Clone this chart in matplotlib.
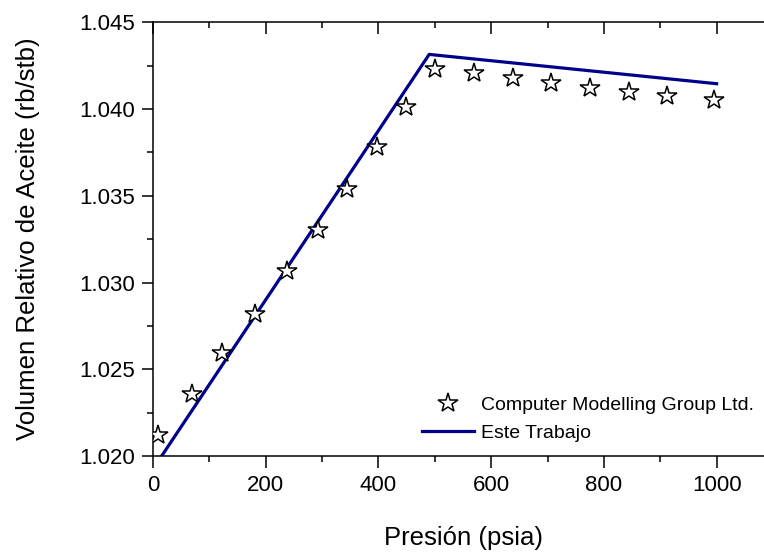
import matplotlib
matplotlib.use("Agg")
import matplotlib.pyplot as plt
from matplotlib.ticker import MultipleLocator

plt.rcParams['font.family'] = ['Liberation Sans', 'DejaVu Sans']

# CMG reference points
presion_cmg = [9, 69, 122, 181, 238, 293, 344, 397, 449, 500, 570, 638, 707, 776, 844, 912, 996]
bo_cmg = [1.02120, 1.02356, 1.02593, 1.02818, 1.03066, 1.03302, 1.03537, 1.03783, 1.04012,
          1.04229, 1.04206, 1.04181, 1.04148, 1.04119, 1.04100, 1.04075, 1.04052]

# model result (this work)
presion_modelo = [0, 490, 1000]
bo_modelo = [1.01925, 1.04315, 1.04146]

fig = plt.figure(figsize=(7.64, 5.56), dpi=100)
ax = fig.add_axes([153 / 764, 100 / 556, 620 / 764, 433.7 / 556])

ax.plot(presion_cmg, bo_cmg, linestyle='none', marker='*', markersize=15,
        markerfacecolor='white', markeredgecolor='black', markeredgewidth=1.1,
        label='Computer Modelling Group Ltd.', zorder=3)
ax.plot(presion_modelo, bo_modelo, color='#00008b', linewidth=2.3, label='Este Trabajo', zorder=2)

ax.set_xlim(0, 1100)
ax.set_ylim(1.020, 1.045)
ax.xaxis.set_major_locator(MultipleLocator(200))
ax.xaxis.set_minor_locator(MultipleLocator(100))
ax.yaxis.set_major_locator(MultipleLocator(0.005))
ax.yaxis.set_minor_locator(MultipleLocator(0.0025))
ax.yaxis.set_major_formatter(matplotlib.ticker.FormatStrFormatter('%.3f'))

for s in ax.spines.values():
    s.set_linewidth(1.1)
ax.spines['right'].set_visible(False)

ax.tick_params(axis='both', which='major', labelsize=16, width=1.1, length=8, direction='out', pad=5)
ax.tick_params(axis='both', which='minor', width=1.1, length=4.5, direction='out')
ax.tick_params(axis='x', which='both', top=True)
ax.tick_params(axis='x', which='major', length=8.5)
ax.tick_params(axis='x', which='minor', length=4.5)

# top ticks point inward
for t in ax.xaxis.get_major_ticks() + ax.xaxis.get_minor_ticks():
    t.tick2line.set_marker(matplotlib.lines.TICKDOWN)

ax.set_xlabel('Presión (psia)', fontsize=18.5, labelpad=22)
ax.set_ylabel('Volumen Relativo de Aceite (rb/stb)', fontsize=18.5, labelpad=28)

fig.legend(loc='lower left', bbox_to_anchor=(421.7 / 764, 0.205), frameon=False,
           fontsize=14, borderpad=0, borderaxespad=0, handlelength=2.7,
           handletextpad=0.35, labelspacing=0.55)

fig.savefig('out.png', dpi=100)
